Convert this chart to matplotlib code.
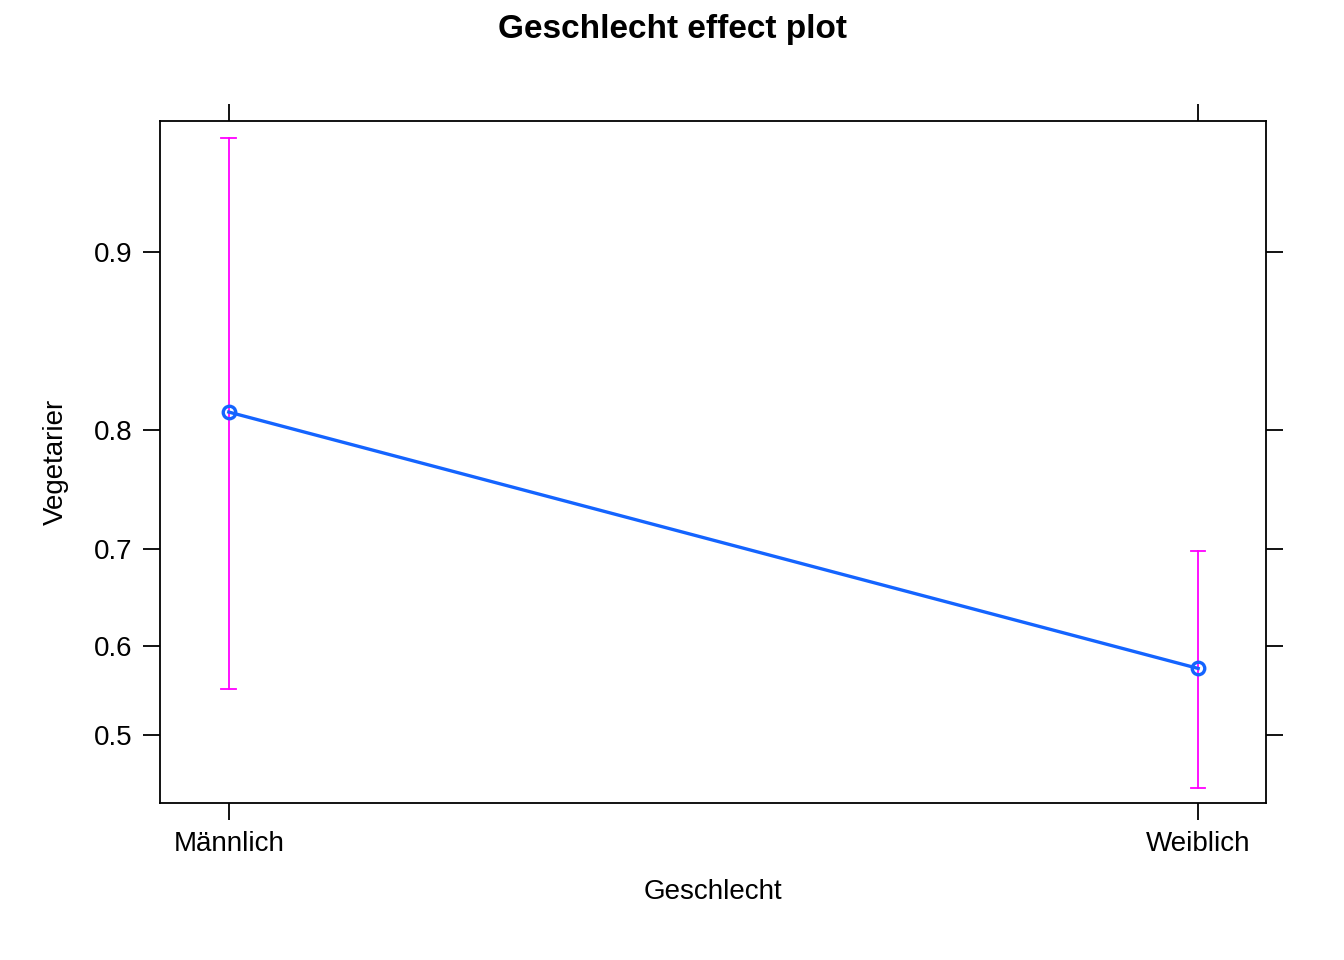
import matplotlib
matplotlib.use("Agg")
import matplotlib.pyplot as plt

categories = ["Männlich", "Weiblich"]
fit = [0.813, 0.575]
lower = [0.552, 0.440]
upper = [0.938, 0.698]
yticks = [0.5, 0.6, 0.7, 0.8, 0.9]

plt.rcParams['font.family'] = ['Liberation Sans', 'DejaVu Sans']

fig = plt.figure(figsize=(13.44, 9.6), dpi=100)
ax = fig.add_axes([0.119, 0.1635, 0.823, 0.7105])
ax.set_yscale('logit')

x = [1, 2]
ax.plot(x, fit, color='#1464ff', lw=2.4, marker='o', ms=9, mfc='none', mew=2.4, zorder=3)
for xi, lo, hi in zip(x, lower, upper):
    ax.plot([xi, xi], [lo, hi], color='#ff00ff', lw=1.3, zorder=2)
    for v in (lo, hi):
        ax.plot([xi - 0.0075, xi + 0.0075], [v, v], color='#ff00ff', lw=1.3, zorder=2)

ax.set_xlim(0.929, 2.07)
ax.set_ylim(0.423, 0.9424)
ax.set_xticks(x)
ax.set_xticklabels(categories)
ax.set_yticks(yticks)
ax.set_yticklabels([str(t) for t in yticks])
ax.yaxis.set_minor_locator(matplotlib.ticker.NullLocator())
ax.yaxis.set_minor_formatter(matplotlib.ticker.NullFormatter())
ax.tick_params(axis='both', direction='out', length=12, width=1.3, labelsize=20,
               top=True, right=True, labeltop=False, labelright=False, pad=8)
for s in ax.spines.values():
    s.set_linewidth(1.3)

ax.set_xlabel("Geschlecht", fontsize=20, labelpad=16)
ax.set_ylabel("Vegetarier", fontsize=20, labelpad=18)
fig.suptitle("Geschlecht effect plot", fontsize=24, fontweight='bold', y=0.985)

fig.savefig("out.png", dpi=100)
